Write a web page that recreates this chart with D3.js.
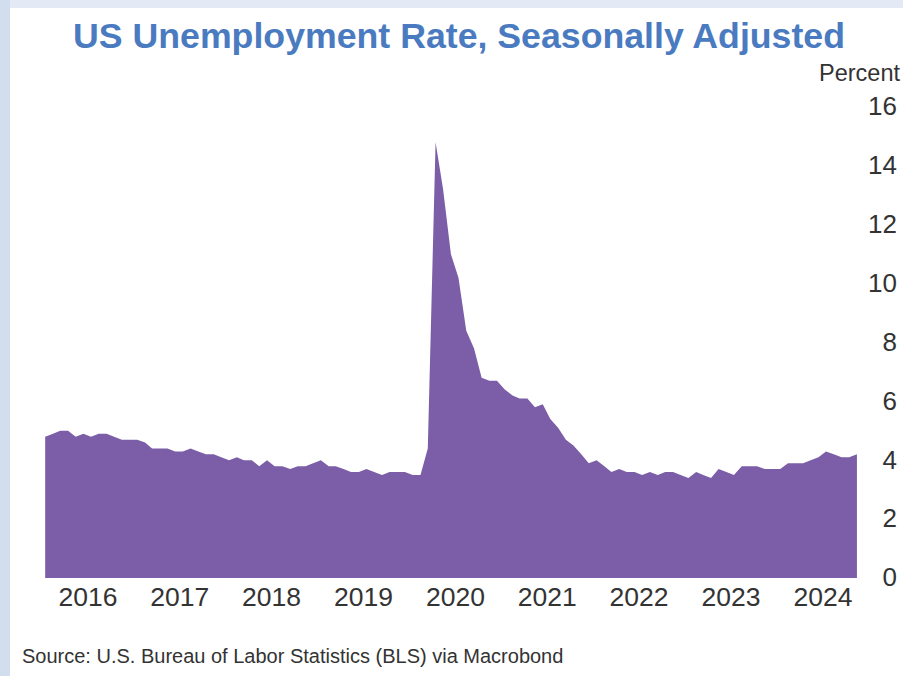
<!DOCTYPE html>
<html>
<head>
<meta charset="utf-8">
<script src="https://cdn.jsdelivr.net/npm/d3@7"></script>
<style>
  html, body { margin: 0; padding: 0; background: #ffffff; }
  svg { display: block; font-family: "Liberation Sans", Arial, sans-serif; }
</style>
</head>
<body>
<svg id="chart" width="903" height="676"></svg>
<script>
// Monthly unemployment rate (%), seasonally adjusted, Jan 2016 onward
const startYear = 2016;
const rate2016 = [4.8, 4.9, 5.0, 5.0, 4.8, 4.9, 4.8, 4.9, 4.9, 4.8, 4.7, 4.7];
const rate2017 = [4.7, 4.6, 4.4, 4.4, 4.4, 4.3, 4.3, 4.4, 4.3, 4.2, 4.2, 4.1];
const rate2018 = [4.0, 4.1, 4.0, 4.0, 3.8, 4.0, 3.8, 3.8, 3.7, 3.8, 3.8, 3.9];
const rate2019 = [4.0, 3.8, 3.8, 3.7, 3.6, 3.6, 3.7, 3.6, 3.5, 3.6, 3.6, 3.6];
const rate2020 = [3.5, 3.5, 4.4, 14.8, 13.2, 11.0, 10.2, 8.4, 7.8, 6.8, 6.7, 6.7];
const rate2021 = [6.4, 6.2, 6.1, 6.1, 5.8, 5.9, 5.4, 5.1, 4.7, 4.5, 4.2, 3.9];
const rate2022 = [4.0, 3.8, 3.6, 3.7, 3.6, 3.6, 3.5, 3.6, 3.5, 3.6, 3.6, 3.5];
const rate2023 = [3.4, 3.6, 3.5, 3.4, 3.7, 3.6, 3.5, 3.8, 3.8, 3.8, 3.7, 3.7];
const rate2024 = [3.7, 3.9, 3.9, 3.9, 4.0, 4.1, 4.3, 4.2, 4.1, 4.1, 4.2];

const yearLabels = [2016, 2017, 2018, 2019, 2020, 2021, 2022, 2023, 2024];
const percentTicks = [0, 2, 4, 6, 8, 10, 12, 14, 16];

const titleText = "US Unemployment Rate, Seasonally Adjusted";
const unitText = "Percent";
const sourceText = "Source: U.S. Bureau of Labor Statistics (BLS) via Macrobond";

// Flatten into dated points, each plotted mid-month
const series = [rate2016, rate2017, rate2018, rate2019, rate2020,
                rate2021, rate2022, rate2023, rate2024];
const data = [];
series.forEach((vals, yi) => {
  vals.forEach((v, m) => data.push({ date: new Date(startYear + yi, m, 16), value: v }));
});

const svg = d3.select("#chart");
const font = "'Liberation Sans', Arial, sans-serif";

// Frame: pale blue strips along the top and left edges
svg.append("rect").attr("x", 0).attr("y", 0).attr("width", 903).attr("height", 8)
  .attr("fill", "#e3eaf5");
svg.append("rect").attr("x", 0).attr("y", 0).attr("width", 10).attr("height", 676)
  .attr("fill", "#d2ddee");

const x = d3.scaleTime()
  .domain([new Date(2016, 0, 1), new Date(2025, 0, 1)])
  .range([41.4, 868.5]);

const y = d3.scaleLinear()
  .domain([0, 16])
  .range([578, 107]);

// Area
const area = d3.area()
  .x(d => x(d.date))
  .y0(y(0))
  .y1(d => y(d.value));

svg.append("path")
  .datum(data)
  .attr("d", area)
  .attr("fill", "#7b5ea7");

// X axis: year labels centred on each year
const xAxis = d3.axisBottom(x)
  .tickValues(yearLabels.map(yr => new Date(yr, 6, 2)))
  .tickFormat(d3.timeFormat("%Y"))
  .tickSize(0)
  .tickPadding(0);

const gx = svg.append("g")
  .attr("transform", `translate(0, ${y(0)})`)
  .call(xAxis);
gx.select(".domain").remove();
gx.selectAll("text")
  .attr("dy", null)
  .attr("y", 28)
  .attr("fill", "#333333")
  .style("font-size", "26.5px")
  .style("font-family", font);

// Y axis on the right, labels only
const yAxis = d3.axisRight(y)
  .tickValues(percentTicks)
  .tickFormat(d3.format("d"))
  .tickSize(0)
  .tickPadding(0);

const gy = svg.append("g")
  .attr("transform", "translate(897, 0)")
  .call(yAxis);
gy.select(".domain").remove();
gy.selectAll("text")
  .attr("text-anchor", "end")
  .attr("x", 0)
  .attr("dy", "0.3em")
  .attr("fill", "#333333")
  .style("font-size", "26px")
  .style("font-family", font);

// Unit label
svg.append("text")
  .attr("x", 900)
  .attr("y", 81)
  .attr("text-anchor", "end")
  .attr("fill", "#333333")
  .style("font-size", "23.5px")
  .style("font-family", font)
  .text(unitText);

// Title
svg.append("text")
  .attr("x", 459)
  .attr("y", 48)
  .attr("text-anchor", "middle")
  .attr("fill", "#4a7bc0")
  .attr("textLength", 772)
  .attr("lengthAdjust", "spacingAndGlyphs")
  .style("font-size", "35.5px")
  .style("font-weight", "bold")
  .style("font-family", font)
  .text(titleText);

// Source note
svg.append("text")
  .attr("x", 22)
  .attr("y", 663)
  .attr("fill", "#333333")
  .style("font-size", "20px")
  .style("font-family", font)
  .text(sourceText);
</script>
</body>
</html>
